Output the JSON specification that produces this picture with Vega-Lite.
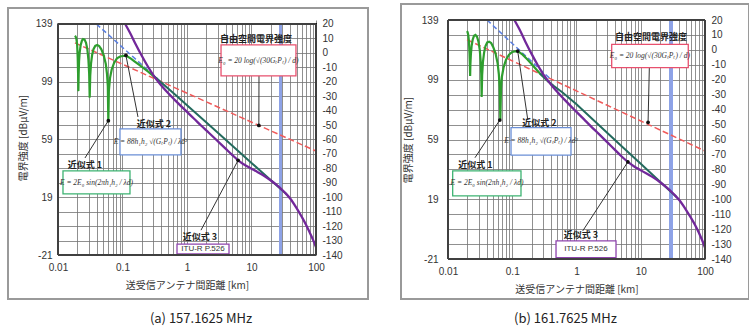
{
  "$schema": "https://vega.github.io/schema/vega-lite/v6.json",
  "background": "white",
  "padding": {"left": 7, "top": 3, "right": 0, "bottom": 0},
  "bounds": "flush",
  "spacing": 132,
  "config": {
    "view": {"stroke": null},
    "axis": {"labelFont": "Liberation Sans", "labelFontSize": 10, "labelColor": "#333", "titleFont": "Noto Sans CJK JP", "titleFontSize": 10, "titleFontWeight": "normal", "titleColor": "#333"}
  },
  "datasets": {
    "A": [
      {"g": "red", "d": 0.0183, "E": 125.9}, {"g": "red", "d": 100, "E": 51},
      {"g": "blue", "d": 0.0394, "E": 139}, {"g": "blue", "d": 0.4, "E": 98.7},
      {"g": "green", "d": 0.0183, "E": 130.8}, {"g": "green", "d": 0.0188, "E": 130.2}, {"g": "green", "d": 0.0193, "E": 128.5}, {"g": "green", "d": 0.0198, "E": 124.5}, {"g": "green", "d": 0.0202, "E": 116}, {"g": "green", "d": 0.0205, "E": 104}, {"g": "green", "d": 0.0207, "E": 92.5}, {"g": "green", "d": 0.0209, "E": 104}, {"g": "green", "d": 0.0212, "E": 113}, {"g": "green", "d": 0.0217, "E": 119.5}, {"g": "green", "d": 0.0225, "E": 124.5}, {"g": "green", "d": 0.0235, "E": 127.5}, {"g": "green", "d": 0.0245, "E": 128.6}, {"g": "green", "d": 0.0258, "E": 128.2}, {"g": "green", "d": 0.0272, "E": 126}, {"g": "green", "d": 0.0285, "E": 121.5}, {"g": "green", "d": 0.0296, "E": 114.5}, {"g": "green", "d": 0.0304, "E": 105}, {"g": "green", "d": 0.031, "E": 88}, {"g": "green", "d": 0.0316, "E": 103}, {"g": "green", "d": 0.0325, "E": 111.5}, {"g": "green", "d": 0.0338, "E": 117.5}, {"g": "green", "d": 0.0355, "E": 121.5}, {"g": "green", "d": 0.0378, "E": 123.8}, {"g": "green", "d": 0.0405, "E": 124.4}, {"g": "green", "d": 0.0435, "E": 123.7}, {"g": "green", "d": 0.047, "E": 121.5}, {"g": "green", "d": 0.051, "E": 117.5}, {"g": "green", "d": 0.055, "E": 111.5}, {"g": "green", "d": 0.0575, "E": 104.5}, {"g": "green", "d": 0.0592, "E": 96}, {"g": "green", "d": 0.0603, "E": 71}, {"g": "green", "d": 0.0615, "E": 93}, {"g": "green", "d": 0.064, "E": 101.5}, {"g": "green", "d": 0.068, "E": 107.5}, {"g": "green", "d": 0.074, "E": 112}, {"g": "green", "d": 0.082, "E": 115.2}, {"g": "green", "d": 0.092, "E": 116.5}, {"g": "green", "d": 0.105, "E": 117}, {"g": "green", "d": 0.118, "E": 116.6}, {"g": "green", "d": 0.135, "E": 115}, {"g": "green", "d": 0.155, "E": 113}, {"g": "green", "d": 0.18, "E": 110.8}, {"g": "green", "d": 0.21, "E": 108.6}, {"g": "green", "d": 0.25, "E": 106}, {"g": "green", "d": 0.3, "E": 103.1}, {"g": "green", "d": 0.35, "E": 100.6},
      {"g": "teal", "d": 0.3, "E": 103.1}, {"g": "teal", "d": 0.35, "E": 100.6}, {"g": "teal", "d": 0.4, "E": 98.4}, {"g": "teal", "d": 0.5, "E": 94.6}, {"g": "teal", "d": 0.7, "E": 88.9}, {"g": "teal", "d": 1, "E": 82.7}, {"g": "teal", "d": 2, "E": 70.8}, {"g": "teal", "d": 5, "E": 54.8}, {"g": "teal", "d": 10, "E": 42.8}, {"g": "teal", "d": 20, "E": 30.8}, {"g": "teal", "d": 35, "E": 21},
      {"g": "purple", "d": 0.11, "E": 139}, {"g": "purple", "d": 0.13, "E": 133.1}, {"g": "purple", "d": 0.16, "E": 125}, {"g": "purple", "d": 0.2, "E": 116.8}, {"g": "purple", "d": 0.25, "E": 109.2}, {"g": "purple", "d": 0.33, "E": 101}, {"g": "purple", "d": 0.4, "E": 96.4}, {"g": "purple", "d": 0.5, "E": 91.5}, {"g": "purple", "d": 0.65, "E": 86.3}, {"g": "purple", "d": 0.8, "E": 82.3}, {"g": "purple", "d": 1, "E": 78.1}, {"g": "purple", "d": 1.3, "E": 73.2}, {"g": "purple", "d": 1.65, "E": 68.7}, {"g": "purple", "d": 2.2, "E": 63.5}, {"g": "purple", "d": 3, "E": 57.8}, {"g": "purple", "d": 4, "E": 52.5}, {"g": "purple", "d": 5, "E": 48.4}, {"g": "purple", "d": 6.2, "E": 44.6}, {"g": "purple", "d": 8, "E": 41.2}, {"g": "purple", "d": 10, "E": 38.8}, {"g": "purple", "d": 12.5, "E": 36.4}, {"g": "purple", "d": 16, "E": 33.6}, {"g": "purple", "d": 20, "E": 30.6}, {"g": "purple", "d": 25, "E": 27.2}, {"g": "purple", "d": 30, "E": 24}, {"g": "purple", "d": 35, "E": 21}, {"g": "purple", "d": 40, "E": 18}, {"g": "purple", "d": 50, "E": 11.5}, {"g": "purple", "d": 60, "E": 5.5}, {"g": "purple", "d": 70, "E": 0}, {"g": "purple", "d": 80, "E": -5.5}, {"g": "purple", "d": 90, "E": -10.5}, {"g": "purple", "d": 100, "E": -15.5},
      {"g": "arrow", "d": 0.0262, "E": 46.2, "d2": 0.0603, "E2": 72}, {"g": "arrow", "d": 0.1738, "E": 74.6, "d2": 0.113, "E2": 117.3}, {"g": "arrow", "d": 13.07, "E": 103, "d2": 13, "E2": 68.7}, {"g": "arrow", "d": 1.648, "E": -3.8, "d2": 6.2, "E2": 44.6},
      {"g": "dot", "d": 0.0603, "E": 72}, {"g": "dot", "d": 0.113, "E": 117.3}, {"g": "dot", "d": 13, "E": 68.7}, {"g": "dot", "d": 6.2, "E": 44.6},
      {"g": "box", "k": "g", "d": 0.01195, "d2": 0.1306, "E": 37.2, "E2": 21.3}, {"g": "box", "k": "b", "d": 0.0914, "d2": 0.807, "E": 66.3, "E2": 48.3}, {"g": "box", "k": "r", "d": 3.37, "d2": 48.9, "E": 124.5, "E2": 103}, {"g": "box", "k": "p", "d": 0.7, "d2": 4.48, "E": -13.4, "E2": -20.3},
      {"g": "formula", "d": 0.0395, "E": 29.2, "t": "E = 2E₀ sin(2πh₁h₂ / λd)"}, {"g": "formula", "d": 0.2716, "E": 57.3, "t": "E = 88h₁h₂ √(GₜPₜ) / λd²"}, {"g": "formula", "d": 12.8, "E": 113.7, "t": "E₀ = 20 log(√(30GₜPₜ) / d)"},
      {"g": "itu", "d": 1.77, "E": -17, "t": "ITU-R P.526"},
      {"g": "label", "d": 0.0262, "E": 41.4, "t": "近似式 1"}, {"g": "label", "d": 0.3076, "E": 69.7, "t": "近似式 2"}, {"g": "label", "d": 11.75, "E": 128.6, "t": "自由空間電界強度"}, {"g": "label", "d": 1.59, "E": -8.8, "t": "近似式 3"}
    ],
    "B": [
      {"g": "red", "d": 0.0198, "E": 125.8}, {"g": "red", "d": 100, "E": 51.3},
      {"g": "blue", "d": 0.0405, "E": 139}, {"g": "blue", "d": 0.4, "E": 99.2},
      {"g": "green", "d": 0.0197, "E": 131.5}, {"g": "green", "d": 0.0202, "E": 130.8}, {"g": "green", "d": 0.0207, "E": 128.8}, {"g": "green", "d": 0.0212, "E": 124.5}, {"g": "green", "d": 0.0216, "E": 117}, {"g": "green", "d": 0.0219, "E": 109}, {"g": "green", "d": 0.0221, "E": 101.5}, {"g": "green", "d": 0.0223, "E": 109}, {"g": "green", "d": 0.0227, "E": 116}, {"g": "green", "d": 0.0233, "E": 121.5}, {"g": "green", "d": 0.0242, "E": 125.8}, {"g": "green", "d": 0.0254, "E": 128.4}, {"g": "green", "d": 0.0268, "E": 129}, {"g": "green", "d": 0.0283, "E": 127.8}, {"g": "green", "d": 0.0298, "E": 124.5}, {"g": "green", "d": 0.0312, "E": 119}, {"g": "green", "d": 0.0322, "E": 112}, {"g": "green", "d": 0.0329, "E": 103}, {"g": "green", "d": 0.0334, "E": 87.5}, {"g": "green", "d": 0.034, "E": 102}, {"g": "green", "d": 0.035, "E": 111}, {"g": "green", "d": 0.0364, "E": 117}, {"g": "green", "d": 0.0383, "E": 121.5}, {"g": "green", "d": 0.0408, "E": 124}, {"g": "green", "d": 0.0437, "E": 124.5}, {"g": "green", "d": 0.047, "E": 123.6}, {"g": "green", "d": 0.0505, "E": 121}, {"g": "green", "d": 0.055, "E": 116.5}, {"g": "green", "d": 0.0592, "E": 110}, {"g": "green", "d": 0.0618, "E": 103}, {"g": "green", "d": 0.0637, "E": 94}, {"g": "green", "d": 0.0653, "E": 72.5}, {"g": "green", "d": 0.0668, "E": 93}, {"g": "green", "d": 0.069, "E": 101}, {"g": "green", "d": 0.0735, "E": 107.5}, {"g": "green", "d": 0.08, "E": 112.5}, {"g": "green", "d": 0.089, "E": 115.8}, {"g": "green", "d": 0.1, "E": 117.6}, {"g": "green", "d": 0.113, "E": 118.2}, {"g": "green", "d": 0.127, "E": 117.6}, {"g": "green", "d": 0.145, "E": 115.8}, {"g": "green", "d": 0.168, "E": 113}, {"g": "green", "d": 0.195, "E": 110}, {"g": "green", "d": 0.23, "E": 106.5}, {"g": "green", "d": 0.27, "E": 103.2}, {"g": "green", "d": 0.32, "E": 100.2}, {"g": "green", "d": 0.37, "E": 97.6},
      {"g": "teal", "d": 0.27, "E": 103.2}, {"g": "teal", "d": 0.32, "E": 100.2}, {"g": "teal", "d": 0.37, "E": 97.6}, {"g": "teal", "d": 0.45, "E": 94.6}, {"g": "teal", "d": 0.6, "E": 90.6}, {"g": "teal", "d": 1, "E": 82.6}, {"g": "teal", "d": 2, "E": 70.6}, {"g": "teal", "d": 5, "E": 54.7}, {"g": "teal", "d": 10, "E": 42.7}, {"g": "teal", "d": 20, "E": 30.7}, {"g": "teal", "d": 36, "E": 20.5},
      {"g": "purple", "d": 0.108, "E": 139}, {"g": "purple", "d": 0.13, "E": 132.6}, {"g": "purple", "d": 0.16, "E": 124.5}, {"g": "purple", "d": 0.2, "E": 116.3}, {"g": "purple", "d": 0.25, "E": 108.7}, {"g": "purple", "d": 0.32, "E": 101.2}, {"g": "purple", "d": 0.4, "E": 95.8}, {"g": "purple", "d": 0.5, "E": 90.9}, {"g": "purple", "d": 0.65, "E": 85.7}, {"g": "purple", "d": 0.8, "E": 81.7}, {"g": "purple", "d": 1, "E": 77.5}, {"g": "purple", "d": 1.3, "E": 72.6}, {"g": "purple", "d": 1.65, "E": 68.1}, {"g": "purple", "d": 2.2, "E": 62.9}, {"g": "purple", "d": 3, "E": 57.2}, {"g": "purple", "d": 4, "E": 51.9}, {"g": "purple", "d": 5, "E": 47.8}, {"g": "purple", "d": 6.3, "E": 44}, {"g": "purple", "d": 8, "E": 40.8}, {"g": "purple", "d": 10, "E": 38.4}, {"g": "purple", "d": 12.5, "E": 36}, {"g": "purple", "d": 16, "E": 33.3}, {"g": "purple", "d": 20, "E": 30.4}, {"g": "purple", "d": 25, "E": 27.1}, {"g": "purple", "d": 30, "E": 24}, {"g": "purple", "d": 35, "E": 21.1}, {"g": "purple", "d": 40, "E": 18.3}, {"g": "purple", "d": 50, "E": 12.3}, {"g": "purple", "d": 60, "E": 6.8}, {"g": "purple", "d": 70, "E": 1.8}, {"g": "purple", "d": 80, "E": -3.2}, {"g": "purple", "d": 90, "E": -8.3}, {"g": "purple", "d": 100, "E": -13.4},
      {"g": "arrow", "d": 0.0263, "E": 46.8, "d2": 0.064, "E2": 72}, {"g": "arrow", "d": 0.174, "E": 72.5, "d2": 0.1216, "E2": 118.2}, {"g": "arrow", "d": 13.6, "E": 107.1, "d2": 13, "E2": 70.5}, {"g": "arrow", "d": 1.25, "E": -2.2, "d2": 6.3, "E2": 44},
      {"g": "dot", "d": 0.064, "E": 72}, {"g": "dot", "d": 0.1216, "E": 118.2}, {"g": "dot", "d": 13, "E": 70.5}, {"g": "dot", "d": 6.3, "E": 44},
      {"g": "box", "k": "g", "d": 0.01183, "d2": 0.1368, "E": 38, "E2": 21.2}, {"g": "box", "k": "b", "d": 0.0957, "d2": 0.82, "E": 66.9, "E2": 48.6}, {"g": "box", "k": "r", "d": 3.53, "d2": 54.9, "E": 122.7, "E2": 107.1}, {"g": "box", "k": "p", "d": 0.48, "d2": 4.12, "E": -8.9, "E2": -20.1},
      {"g": "formula", "d": 0.0405, "E": 29.6, "t": "E = 2E₀ sin(2πh₁h₂ / λd)"}, {"g": "formula", "d": 0.28, "E": 57.8, "t": "E = 88h₁h₂ √(GₜPₜ) / λd²"}, {"g": "formula", "d": 13.9, "E": 114.9, "t": "E₀ = 20 log(√(30GₜPₜ) / d)"},
      {"g": "itu", "d": 1.4, "E": -14.5, "t": "ITU-R P.526"},
      {"g": "label", "d": 0.0266, "E": 42, "t": "近似式 1"}, {"g": "label", "d": 0.2638, "E": 70.3, "t": "近似式 2"}, {"g": "label", "d": 14.5, "E": 127.6, "t": "自由空間電界強度"}, {"g": "label", "d": 1.175, "E": -5, "t": "近似式 3"}
    ]
  },
  "hconcat": [
    {
      "width": 258, "height": 235,
      "title": {"text": "(a) 157.1625 MHz", "orient": "bottom", "anchor": "middle", "fontSize": 13, "fontWeight": "normal", "font": "Noto Sans CJK JP", "color": "#222", "offset": 14, "dx": 14},
      "resolve": {"scale": {"y": "independent"}},
      "layer": [
        {
          "data": {"name": "A"},
          "layer": [
            {"mark": {"type": "rect", "fill": "white", "fillOpacity": 0, "stroke": "#9a9a9a", "strokeWidth": 1.2, "clip": false},
             "encoding": {
               "x": {"datum": 0.00168, "type": "quantitative", "scale": {"type": "log", "domain": [0.01, 100], "nice": false}, "title": "送受信アンテナ間距離 [km]",
                     "axis": {"values": [0.01,0.02,0.03,0.04,0.05,0.06,0.07,0.08,0.09,0.1,0.2,0.3,0.4,0.5,0.6,0.7,0.8,0.9,1,2,3,4,5,6,7,8,9,10,20,30,40,50,60,70,80,90,100], "labelExpr": "datum.value==0.01?'0.01':datum.value==0.1?'0.1':datum.value==1?'1':datum.value==10?'10':datum.value==100?'100':''", "grid": true, "gridColor": "#747474", "gridWidth": 0.8, "ticks": false, "domain": false, "labelFlush": false, "labelOverlap": false, "labelPadding": 7, "titlePadding": 8}},
               "x2": {"datum": 640},
               "y": {"datum": 150.08, "type": "quantitative", "scale": {"domain": [-21, 141.77], "nice": false, "zero": false}, "title": "電界強度 [dBμV/m]",
                     "axis": {"values": [-21,-1,19,39,59,79,99,119,139], "labelExpr": "''+datum.value", "grid": false, "ticks": false, "domain": false, "labelPadding": 6, "titlePadding": 7}},
               "y2": {"datum": -51.4}
             }},
            {"mark": {"type": "rect", "fill": "white", "strokeWidth": 0},
             "encoding": {"x": {"datum": 0.01, "type": "quantitative", "scale": {"type": "log", "domain": [0.01, 100], "nice": false}, "title": "送受信アンテナ間距離 [km]"}, "x2": {"datum": 100},
                          "y": {"datum": 139, "type": "quantitative", "scale": {"domain": [-21, 141.77], "nice": false, "zero": false}, "title": "電界強度 [dBμV/m]"}, "y2": {"datum": 141.77}}},
            {"mark": {"type": "rule", "color": "#8ea2e6", "strokeWidth": 2.5}, "encoding": {"x": {"datum": 28, "type": "quantitative", "scale": {"type": "log", "domain": [0.01, 100], "nice": false}, "title": "送受信アンテナ間距離 [km]"}, "y": {"datum": 139, "type": "quantitative", "scale": {"domain": [-21, 141.77], "nice": false, "zero": false}, "title": "電界強度 [dBμV/m]"}, "y2": {"datum": -21}}},
            {"transform": [{"filter": "datum.g=='red'"}], "mark": {"type": "line", "color": "#f05a5a", "strokeWidth": 1.5, "strokeDash": [6, 3]},
             "encoding": {"x": {"field": "d", "type": "quantitative", "scale": {"type": "log", "domain": [0.01, 100], "nice": false}, "title": "送受信アンテナ間距離 [km]"}, "y": {"field": "E", "type": "quantitative", "scale": {"domain": [-21, 141.77], "nice": false, "zero": false}, "title": "電界強度 [dBμV/m]"}}},
            {"transform": [{"filter": "datum.g=='blue'"}], "mark": {"type": "line", "color": "#5a7fe0", "strokeWidth": 1.5, "strokeDash": [5, 3]},
             "encoding": {"x": {"field": "d", "type": "quantitative", "scale": {"type": "log", "domain": [0.01, 100], "nice": false}, "title": "送受信アンテナ間距離 [km]"}, "y": {"field": "E", "type": "quantitative", "scale": {"domain": [-21, 141.77], "nice": false, "zero": false}, "title": "電界強度 [dBμV/m]"}}},
            {"transform": [{"filter": "datum.g=='green'"}], "mark": {"type": "line", "color": "#2e9e2e", "strokeWidth": 2.2},
             "encoding": {"x": {"field": "d", "type": "quantitative", "scale": {"type": "log", "domain": [0.01, 100], "nice": false}, "title": "送受信アンテナ間距離 [km]"}, "y": {"field": "E", "type": "quantitative", "scale": {"domain": [-21, 141.77], "nice": false, "zero": false}, "title": "電界強度 [dBμV/m]"}}},
            {"transform": [{"filter": "datum.g=='teal'"}], "mark": {"type": "line", "color": "#246b5e", "strokeWidth": 2},
             "encoding": {"x": {"field": "d", "type": "quantitative", "scale": {"type": "log", "domain": [0.01, 100], "nice": false}, "title": "送受信アンテナ間距離 [km]"}, "y": {"field": "E", "type": "quantitative", "scale": {"domain": [-21, 141.77], "nice": false, "zero": false}, "title": "電界強度 [dBμV/m]"}}},
            {"transform": [{"filter": "datum.g=='purple'"}], "mark": {"type": "line", "color": "#72289a", "strokeWidth": 2.3, "interpolate": "monotone"},
             "encoding": {"x": {"field": "d", "type": "quantitative", "scale": {"type": "log", "domain": [0.01, 100], "nice": false}, "title": "送受信アンテナ間距離 [km]"}, "y": {"field": "E", "type": "quantitative", "scale": {"domain": [-21, 141.77], "nice": false, "zero": false}, "title": "電界強度 [dBμV/m]"}}},
            {"transform": [{"filter": "datum.g=='arrow'"}], "mark": {"type": "rule", "color": "#333", "strokeWidth": 1},
             "encoding": {"x": {"field": "d", "type": "quantitative", "scale": {"type": "log", "domain": [0.01, 100], "nice": false}, "title": "送受信アンテナ間距離 [km]"}, "x2": {"field": "d2"}, "y": {"field": "E", "type": "quantitative", "scale": {"domain": [-21, 141.77], "nice": false, "zero": false}, "title": "電界強度 [dBμV/m]"}, "y2": {"field": "E2"}}},
            {"transform": [{"filter": "datum.g=='dot'"}], "mark": {"type": "point", "filled": true, "color": "#111", "size": 14, "opacity": 1},
             "encoding": {"x": {"field": "d", "type": "quantitative", "scale": {"type": "log", "domain": [0.01, 100], "nice": false}, "title": "送受信アンテナ間距離 [km]"}, "y": {"field": "E", "type": "quantitative", "scale": {"domain": [-21, 141.77], "nice": false, "zero": false}, "title": "電界強度 [dBμV/m]"}}},
            {"transform": [{"filter": "datum.g=='box'"}], "mark": {"type": "rect", "fill": "white", "strokeWidth": 1.3},
             "encoding": {"x": {"field": "d", "type": "quantitative", "scale": {"type": "log", "domain": [0.01, 100], "nice": false}, "title": "送受信アンテナ間距離 [km]"}, "x2": {"field": "d2"}, "y": {"field": "E", "type": "quantitative", "scale": {"domain": [-21, 141.77], "nice": false, "zero": false}, "title": "電界強度 [dBμV/m]"}, "y2": {"field": "E2"},
               "stroke": {"field": "k", "type": "nominal", "scale": {"domain": ["g", "b", "r", "p"], "range": ["#3cb371", "#6b8fd6", "#e8506e", "#8e44ad"]}, "legend": null},
               "strokeDash": {"field": "k", "type": "nominal", "scale": {"domain": ["g", "b", "r", "p"], "range": [[1, 0], [3, 2], [2, 2], [1, 0]]}, "legend": null}}},
            {"mark": {"type": "rect", "fillOpacity": 0, "fill": "white", "stroke": "#404040", "strokeWidth": 1},
             "encoding": {"x": {"datum": 0.01, "type": "quantitative", "scale": {"type": "log", "domain": [0.01, 100], "nice": false}, "title": "送受信アンテナ間距離 [km]"}, "x2": {"datum": 100},
                          "y": {"datum": 139, "type": "quantitative", "scale": {"domain": [-21, 141.77], "nice": false, "zero": false}, "title": "電界強度 [dBμV/m]"}, "y2": {"datum": -21}}},
            {"transform": [{"filter": "datum.g=='formula'"}], "mark": {"type": "text", "font": "Liberation Serif", "fontStyle": "italic", "fontSize": 7.5, "color": "#333"},
             "encoding": {"x": {"field": "d", "type": "quantitative", "scale": {"type": "log", "domain": [0.01, 100], "nice": false}, "title": "送受信アンテナ間距離 [km]"}, "y": {"field": "E", "type": "quantitative", "scale": {"domain": [-21, 141.77], "nice": false, "zero": false}, "title": "電界強度 [dBμV/m]"}, "text": {"field": "t"}}},
            {"transform": [{"filter": "datum.g=='itu'"}], "mark": {"type": "text", "font": "Liberation Sans", "fontSize": 8, "color": "#333"},
             "encoding": {"x": {"field": "d", "type": "quantitative", "scale": {"type": "log", "domain": [0.01, 100], "nice": false}, "title": "送受信アンテナ間距離 [km]"}, "y": {"field": "E", "type": "quantitative", "scale": {"domain": [-21, 141.77], "nice": false, "zero": false}, "title": "電界強度 [dBμV/m]"}, "text": {"field": "t"}}},
            {"transform": [{"filter": "datum.g=='label'"}], "mark": {"type": "text", "font": "Noto Sans CJK JP", "fontSize": 9, "fontWeight": "bold", "color": "#222"},
             "encoding": {"x": {"field": "d", "type": "quantitative", "scale": {"type": "log", "domain": [0.01, 100], "nice": false}, "title": "送受信アンテナ間距離 [km]"}, "y": {"field": "E", "type": "quantitative", "scale": {"domain": [-21, 141.77], "nice": false, "zero": false}, "title": "電界強度 [dBμV/m]"}, "text": {"field": "t"}}}
          ]
        },
        {"mark": {"type": "rule", "opacity": 0},
         "encoding": {"y": {"datum": 0, "type": "quantitative", "scale": {"domain": [-140, 22.77], "nice": false, "zero": false}, "title": "受信電力 [dBm]",
           "axis": {"orient": "right", "values": [-140,-130,-120,-110,-100,-90,-80,-70,-60,-50,-40,-30,-20,-10,0,10,20], "labelExpr": "''+datum.value", "grid": true, "gridColor": "#747474", "gridWidth": 0.8, "ticks": false, "domain": false, "labelPadding": 6, "titlePadding": 3, "titleAngle": 270}}}}
      ]
    },
    {
      "width": 257, "height": 239,
      "title": {"text": "(b) 161.7625 MHz", "orient": "bottom", "anchor": "middle", "fontSize": 13, "fontWeight": "normal", "font": "Noto Sans CJK JP", "color": "#222", "offset": 14, "dx": -11},
      "resolve": {"scale": {"y": "independent"}},
      "layer": [
        {
          "data": {"name": "B"},
          "layer": [
            {"mark": {"type": "rect", "fill": "white", "fillOpacity": 0, "stroke": "#9a9a9a", "strokeWidth": 1.2, "clip": false},
             "encoding": {
               "x": {"datum": 0.001856, "type": "quantitative", "scale": {"type": "log", "domain": [0.01, 100], "nice": false}, "title": "送受信アンテナ間距離 [km]",
                     "axis": {"values": [0.01,0.02,0.03,0.04,0.05,0.06,0.07,0.08,0.09,0.1,0.2,0.3,0.4,0.5,0.6,0.7,0.8,0.9,1,2,3,4,5,6,7,8,9,10,20,30,40,50,60,70,80,90,100], "labelExpr": "datum.value==0.01?'0.01':datum.value==0.1?'0.1':datum.value==1?'1':datum.value==10?'10':datum.value==100?'100':''", "grid": true, "gridColor": "#747474", "gridWidth": 0.8, "ticks": false, "domain": false, "labelFlush": false, "labelOverlap": false, "labelPadding": 7, "titlePadding": 8}},
               "x2": {"datum": 484},
               "y": {"datum": 149.7, "type": "quantitative", "scale": {"domain": [-21, 139], "nice": false, "zero": false}, "title": "電界強度 [dBμV/m]",
                     "axis": {"values": [-21,-1,19,39,59,79,99,119,139], "labelExpr": "''+datum.value", "grid": false, "ticks": false, "domain": false, "labelPadding": 10, "titlePadding": 8}},
               "y2": {"datum": -47.7}
             }},
            {"mark": {"type": "rule", "color": "#8ea2e6", "strokeWidth": 2.5}, "encoding": {"x": {"datum": 29.5, "type": "quantitative", "scale": {"type": "log", "domain": [0.01, 100], "nice": false}, "title": "送受信アンテナ間距離 [km]"}}},
            {"transform": [{"filter": "datum.g=='red'"}], "mark": {"type": "line", "color": "#f05a5a", "strokeWidth": 1.5, "strokeDash": [6, 3]},
             "encoding": {"x": {"field": "d", "type": "quantitative", "scale": {"type": "log", "domain": [0.01, 100], "nice": false}, "title": "送受信アンテナ間距離 [km]"}, "y": {"field": "E", "type": "quantitative", "scale": {"domain": [-21, 139], "nice": false, "zero": false}, "title": "電界強度 [dBμV/m]"}}},
            {"transform": [{"filter": "datum.g=='blue'"}], "mark": {"type": "line", "color": "#5a7fe0", "strokeWidth": 1.5, "strokeDash": [5, 3]},
             "encoding": {"x": {"field": "d", "type": "quantitative", "scale": {"type": "log", "domain": [0.01, 100], "nice": false}, "title": "送受信アンテナ間距離 [km]"}, "y": {"field": "E", "type": "quantitative", "scale": {"domain": [-21, 139], "nice": false, "zero": false}, "title": "電界強度 [dBμV/m]"}}},
            {"transform": [{"filter": "datum.g=='green'"}], "mark": {"type": "line", "color": "#2e9e2e", "strokeWidth": 2.2},
             "encoding": {"x": {"field": "d", "type": "quantitative", "scale": {"type": "log", "domain": [0.01, 100], "nice": false}, "title": "送受信アンテナ間距離 [km]"}, "y": {"field": "E", "type": "quantitative", "scale": {"domain": [-21, 139], "nice": false, "zero": false}, "title": "電界強度 [dBμV/m]"}}},
            {"transform": [{"filter": "datum.g=='teal'"}], "mark": {"type": "line", "color": "#246b5e", "strokeWidth": 2},
             "encoding": {"x": {"field": "d", "type": "quantitative", "scale": {"type": "log", "domain": [0.01, 100], "nice": false}, "title": "送受信アンテナ間距離 [km]"}, "y": {"field": "E", "type": "quantitative", "scale": {"domain": [-21, 139], "nice": false, "zero": false}, "title": "電界強度 [dBμV/m]"}}},
            {"transform": [{"filter": "datum.g=='purple'"}], "mark": {"type": "line", "color": "#72289a", "strokeWidth": 2.3, "interpolate": "monotone"},
             "encoding": {"x": {"field": "d", "type": "quantitative", "scale": {"type": "log", "domain": [0.01, 100], "nice": false}, "title": "送受信アンテナ間距離 [km]"}, "y": {"field": "E", "type": "quantitative", "scale": {"domain": [-21, 139], "nice": false, "zero": false}, "title": "電界強度 [dBμV/m]"}}},
            {"transform": [{"filter": "datum.g=='arrow'"}], "mark": {"type": "rule", "color": "#333", "strokeWidth": 1},
             "encoding": {"x": {"field": "d", "type": "quantitative", "scale": {"type": "log", "domain": [0.01, 100], "nice": false}, "title": "送受信アンテナ間距離 [km]"}, "x2": {"field": "d2"}, "y": {"field": "E", "type": "quantitative", "scale": {"domain": [-21, 139], "nice": false, "zero": false}, "title": "電界強度 [dBμV/m]"}, "y2": {"field": "E2"}}},
            {"transform": [{"filter": "datum.g=='dot'"}], "mark": {"type": "point", "filled": true, "color": "#111", "size": 14, "opacity": 1},
             "encoding": {"x": {"field": "d", "type": "quantitative", "scale": {"type": "log", "domain": [0.01, 100], "nice": false}, "title": "送受信アンテナ間距離 [km]"}, "y": {"field": "E", "type": "quantitative", "scale": {"domain": [-21, 139], "nice": false, "zero": false}, "title": "電界強度 [dBμV/m]"}}},
            {"transform": [{"filter": "datum.g=='box'"}], "mark": {"type": "rect", "fill": "white", "strokeWidth": 1.3},
             "encoding": {"x": {"field": "d", "type": "quantitative", "scale": {"type": "log", "domain": [0.01, 100], "nice": false}, "title": "送受信アンテナ間距離 [km]"}, "x2": {"field": "d2"}, "y": {"field": "E", "type": "quantitative", "scale": {"domain": [-21, 139], "nice": false, "zero": false}, "title": "電界強度 [dBμV/m]"}, "y2": {"field": "E2"},
               "stroke": {"field": "k", "type": "nominal", "scale": {"domain": ["g", "b", "r", "p"], "range": ["#3cb371", "#6b8fd6", "#e8506e", "#8e44ad"]}, "legend": null},
               "strokeDash": {"field": "k", "type": "nominal", "scale": {"domain": ["g", "b", "r", "p"], "range": [[1, 0], [3, 2], [2, 2], [1, 0]]}, "legend": null}}},
            {"mark": {"type": "rect", "fillOpacity": 0, "fill": "white", "stroke": "#404040", "strokeWidth": 1},
             "encoding": {"x": {"datum": 0.01, "type": "quantitative", "scale": {"type": "log", "domain": [0.01, 100], "nice": false}, "title": "送受信アンテナ間距離 [km]"}, "x2": {"datum": 100},
                          "y": {"datum": 139, "type": "quantitative", "scale": {"domain": [-21, 139], "nice": false, "zero": false}, "title": "電界強度 [dBμV/m]"}, "y2": {"datum": -21}}},
            {"transform": [{"filter": "datum.g=='formula'"}], "mark": {"type": "text", "font": "Liberation Serif", "fontStyle": "italic", "fontSize": 7.5, "color": "#333"},
             "encoding": {"x": {"field": "d", "type": "quantitative", "scale": {"type": "log", "domain": [0.01, 100], "nice": false}, "title": "送受信アンテナ間距離 [km]"}, "y": {"field": "E", "type": "quantitative", "scale": {"domain": [-21, 139], "nice": false, "zero": false}, "title": "電界強度 [dBμV/m]"}, "text": {"field": "t"}}},
            {"transform": [{"filter": "datum.g=='itu'"}], "mark": {"type": "text", "font": "Liberation Sans", "fontSize": 8, "color": "#333"},
             "encoding": {"x": {"field": "d", "type": "quantitative", "scale": {"type": "log", "domain": [0.01, 100], "nice": false}, "title": "送受信アンテナ間距離 [km]"}, "y": {"field": "E", "type": "quantitative", "scale": {"domain": [-21, 139], "nice": false, "zero": false}, "title": "電界強度 [dBμV/m]"}, "text": {"field": "t"}}},
            {"transform": [{"filter": "datum.g=='label'"}], "mark": {"type": "text", "font": "Noto Sans CJK JP", "fontSize": 9, "fontWeight": "bold", "color": "#222"},
             "encoding": {"x": {"field": "d", "type": "quantitative", "scale": {"type": "log", "domain": [0.01, 100], "nice": false}, "title": "送受信アンテナ間距離 [km]"}, "y": {"field": "E", "type": "quantitative", "scale": {"domain": [-21, 139], "nice": false, "zero": false}, "title": "電界強度 [dBμV/m]"}, "text": {"field": "t"}}}
          ]
        },
        {"mark": {"type": "rule", "opacity": 0},
         "encoding": {"y": {"datum": 0, "type": "quantitative", "scale": {"domain": [-140, 20], "nice": false, "zero": false}, "title": "受信電力 [dBm]",
           "axis": {"orient": "right", "values": [-140,-130,-120,-110,-100,-90,-80,-70,-60,-50,-40,-30,-20,-10,0,10,20], "labelExpr": "''+datum.value", "grid": true, "gridColor": "#747474", "gridWidth": 0.8, "ticks": false, "domain": false, "labelPadding": 6, "titlePadding": 3, "titleAngle": 270}}}}
      ]
    }
  ]
}
